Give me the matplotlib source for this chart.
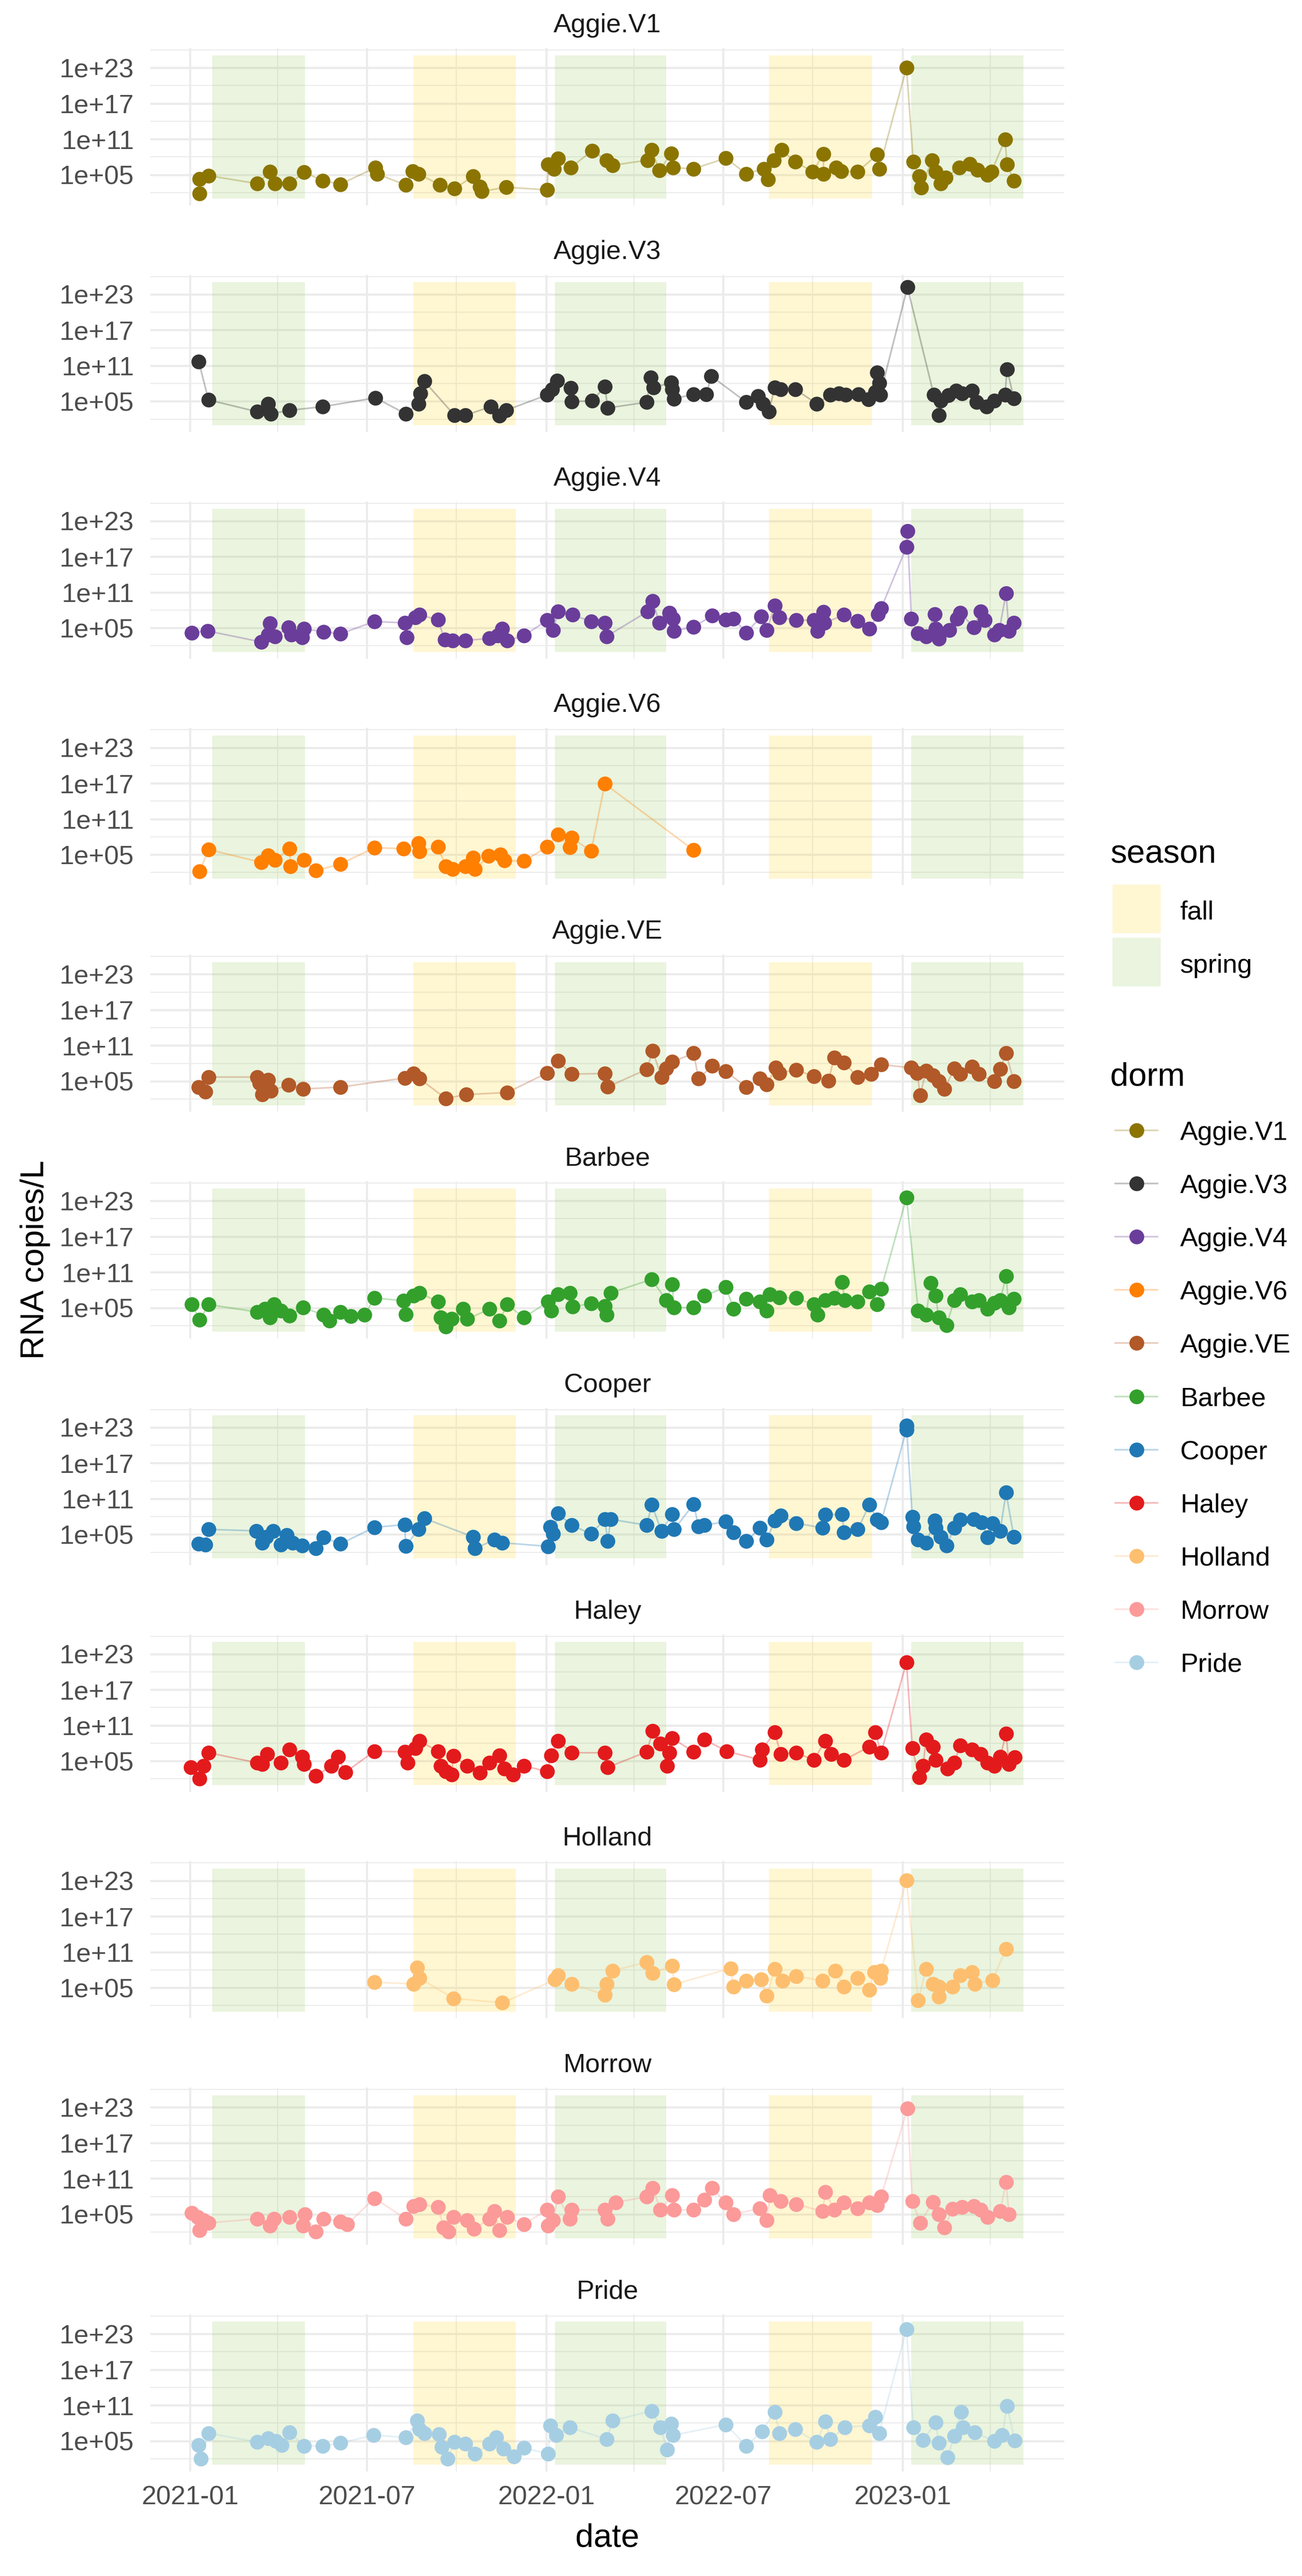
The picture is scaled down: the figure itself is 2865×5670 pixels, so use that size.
import numpy as np
import matplotlib
matplotlib.use("Agg")
import matplotlib.pyplot as plt
import matplotlib.dates as mdates
from matplotlib.patches import Rectangle
from matplotlib.lines import Line2D

plt.rcParams['font.family'] = ['Liberation Sans', 'DejaVu Sans']

# ---------------- data (day = days since 2021-01-01, value = log10 RNA copies/L)
BASE_DATE = '2021-01-01'

dorms = ['Aggie.V1', 'Aggie.V3', 'Aggie.V4', 'Aggie.V6', 'Aggie.VE', 'Barbee',
         'Cooper', 'Haley', 'Holland', 'Morrow', 'Pride']
dorm_colors = ['#8B7500', '#333333', '#6A3D9A', '#FF7F00', '#B15928', '#33A02C',
               '#1F78B4', '#E31A1C', '#FDBF6F', '#FB9A99', '#A6CEE3']

AGGIE_V1 = [(10,4.27),(10,1.8),(19,4.85),(69,3.5),(82,5.5),(87,3.5),(102,3.5),(117,5.4),(136,4.0),(154,3.4),(190,6.2),(192,5.1),(221,3.3),(228,5.6),(234,5.15),(256,3.3),(271,2.65),(290,4.75),(297,3.0),(299,2.2),(324,2.9),(366,2.45),(367,6.7),(373,6.0),(377,7.7),(390,6.2),(412,9.05),(427,7.45),(433,6.6),(469,7.45),(473,9.15),(481,5.7),(493,8.6),(495,6.2),(516,6.0),(549,7.8),(570,5.15),(588,6.0),(592,4.2),(598,7.45),(606,9.15),(620,7.2),(638,5.5),(649,8.5),(649,5.1),(662,6.2),(667,5.6),(684,5.5),(704,8.4),(706,6.0),(734,23.0),(741,7.2),(747,4.75),(749,2.8),(760,7.45),(764,5.5),(769,3.5),(774,4.5),(788,6.2),(799,6.8),(807,5.8),(817,5.0),(821,5.5),(835,10.9),(837,6.7),(844,4.0)]

AGGIE_V3 = [(9,11.7),(19,5.25),(69,3.25),(80,4.6),(83,2.9),(102,3.5),(136,4.1),(190,5.6),(221,2.9),(234,4.6),(236,6.3),(240,8.4),(271,2.65),(282,2.65),(308,4.1),(317,2.55),(324,3.5),(366,6.1),(371,7.05),(376,8.5),(390,7.25),(391,4.95),(412,5.1),(425,7.45),(428,3.9),(468,4.85),(472,9.0),(475,7.3),(493,8.2),(494,7.05),(496,5.45),(516,6.2),(529,6.2),(534,9.25),(570,4.85),(582,5.85),(587,4.6),(593,3.25),(599,7.3),(605,7.05),(620,7.05),(642,4.6),(656,6.1),(665,6.3),(672,6.1),(685,6.2),(695,5.35),(702,6.55),(704,9.85),(706,8.1),(707,6.1),(735,24.2),(762,6.1),(767,2.65),(769,5.1),(777,6.0),(785,6.8),(791,6.3),(801,6.8),(806,4.85),(816,4.1),(824,5.1),(835,6.1),(837,10.4),(844,5.5)]

AGGIE_V4 = [(2,4.2),(18,4.5),(73,2.65),(80,3.9),(82,5.75),(87,3.6),(101,5.1),(104,3.9),(115,3.4),(117,4.85),(137,4.35),(154,4.0),(189,6.1),(220,5.85),(222,3.4),(231,6.8),(235,7.2),(254,6.4),(261,3.0),(269,2.9),(282,2.9),(307,3.25),(315,3.7),(320,4.85),(325,2.9),(342,3.7),(366,6.3),(372,4.6),(377,7.8),(392,7.2),(411,6.1),(425,5.85),(427,3.6),(469,7.8),(474,9.5),(481,5.85),(491,7.55),(495,6.55),(496,4.5),(516,5.2),(535,7.05),(549,6.4),(557,6.55),(570,4.2),(585,6.9),(591,4.6),(599,8.75),(604,6.8),(621,6.3),(639,6.3),(643,4.5),(649,7.7),(650,5.85),(670,7.2),(684,6.2),(696,4.85),(705,7.3),(708,8.3),(734,18.6),(735,21.3),(739,6.55),(746,4.1),(754,3.6),(763,7.3),(764,4.85),(767,3.15),(778,4.6),(786,6.55),(789,7.55),(803,5.1),(810,7.8),(814,6.3),(824,3.9),(829,4.6),(836,10.85),(839,4.5),(844,5.85)]

AGGIE_V6 = [(10,2.2),(19,5.85),(73,3.7),(80,4.85),(87,4.1),(102,6.0),(103,3.05),(117,4.1),(129,2.3),(154,3.4),(189,6.15),(219,6.0),(234,6.95),(235,5.5),(254,6.3),(262,3.05),(269,2.55),(282,3.05),(290,4.5),(292,2.55),(306,4.75),(318,5.0),(322,4.0),(342,3.9),(366,6.3),(377,8.4),(389,6.2),(391,7.8),(411,5.6),(425,16.9),(516,5.75)]

AGGIE_VE = [(9,4.0),(16,3.25),(19,5.7),(69,5.7),(71,4.7),(74,2.75),(80,5.2),(83,3.4),(101,4.35),(116,3.7),(154,4.0),(220,5.55),(229,6.3),(235,5.45),(262,2.1),(283,2.75),(325,3.1),(366,6.4),(377,8.4),(391,6.2),(425,6.3),(428,4.05),(468,7.0),(474,10.1),(483,5.7),(488,7.15),(494,8.25),(516,9.7),(521,5.45),(535,7.55),(549,6.65),(570,4.0),(584,5.45),(591,4.45),(600,7.3),(604,6.4),(621,6.9),(639,5.85),(654,5.05),(660,9.0),(670,8.15),(684,5.7),(698,6.2),(708,7.8),(739,7.25),(745,6.4),(748,2.6),(754,6.75),(761,5.95),(767,4.95),(773,3.7),(783,7.15),(789,6.2),(801,7.4),(808,6.2),(824,4.95),(830,7.05),(836,9.7),(844,4.95)]

BARBEE = [(2,5.55),(10,2.95),(19,5.55),(69,4.3),(77,4.8),(82,3.35),(86,5.55),(93,4.55),(102,3.7),(116,5.05),(137,3.8),(143,2.85),(154,4.3),(165,3.6),(179,3.8),(189,6.65),(219,6.2),(221,3.9),(229,7.0),(235,7.5),(254,6.05),(257,3.35),(262,1.85),(268,3.1),(280,4.8),(284,3.1),(307,4.8),(317,2.85),(325,5.55),(342,3.35),(367,6.05),(370,4.55),(377,7.25),(389,7.5),(392,5.2),(411,5.7),(425,5.3),(427,3.8),(431,7.5),(473,9.8),(488,6.25),(494,8.95),(496,5.05),(516,5.05),(527,7.0),(549,8.5),(557,4.8),(570,6.5),(584,6.05),(591,4.55),(594,7.25),(604,6.75),(621,6.65),(639,5.55),(643,3.8),(651,6.25),(660,6.65),(668,9.3),(671,6.25),(684,6.05),(696,7.75),(704,5.55),(708,8.15),(734,23.55),(746,4.55),(754,3.8),(759,9.2),(764,7.0),(767,3.35),(775,2.1),(783,6.25),(789,7.25),(801,6.05),(808,6.25),(817,4.8),(824,5.8),(830,6.25),(836,10.3),(839,5.05),(844,6.5)]

COOPER = [(9,3.4),(16,3.25),(19,5.85),(68,5.6),(74,3.6),(78,4.6),(85,5.6),(93,3.25),(99,4.85),(105,3.6),(115,3.15),(129,2.65),(137,4.5),(154,3.4),(189,6.2),(220,6.65),(221,3.05),(234,5.85),(240,7.7),(290,4.6),(292,2.65),(312,4.1),(320,3.6),(367,3.0),(369,6.25),(372,5.1),(377,8.55),(391,6.55),(411,5.1),(425,7.55),(428,3.85),(431,7.55),(468,6.55),(473,10.0),(483,5.6),(494,8.4),(496,5.85),(516,10.1),(521,6.3),(527,6.55),(549,7.15),(557,5.35),(570,3.85),(584,6.1),(591,4.1),(599,7.3),(605,8.15),(621,6.9),(648,6.1),(651,8.3),(668,8.4),(670,5.35),(684,5.85),(696,10.0),(704,7.45),(708,7.05),(734,22.65),(734,23.3),(740,7.9),(741,6.3),(746,4.1),(754,3.6),(763,7.3),(764,6.1),(769,4.6),(775,3.15),(783,6.1),(789,7.45),(803,7.55),(811,7.05),(817,4.5),(822,6.9),(830,5.6),(836,12.05),(844,4.6)]

HALEY = [(1,3.95),(10,2.0),(14,4.2),(19,6.4),(69,4.7),(74,4.45),(79,6.2),(93,4.7),(102,6.9),(115,5.7),(117,4.45),(129,2.5),(145,4.2),(152,5.7),(159,3.1),(189,6.65),(220,6.55),(223,4.7),(231,7.15),(235,8.4),(254,6.65),(257,4.2),(262,3.25),(268,2.75),(270,5.85),(284,4.2),(297,3.0),(307,4.7),(317,5.95),(322,3.7),(331,2.75),(342,4.2),(366,3.25),(370,5.95),(377,8.4),(391,6.4),(425,6.4),(428,3.95),(468,6.55),(474,10.1),(482,7.9),(489,4.2),(491,6.4),(494,8.85),(516,6.55),(527,8.6),(550,6.65),(584,5.2),(586,6.9),(599,9.85),(605,6.2),(621,6.4),(639,5.2),(651,8.4),(657,6.2),(670,5.2),(696,7.4),(702,9.85),(708,6.4),(734,21.6),(740,7.15),(747,2.25),(751,4.2),(754,8.6),(761,7.4),(764,5.2),(776,3.7),(783,4.7),(789,7.65),(801,6.9),(810,6.2),(817,4.7),(824,4.2),(830,5.7),(836,9.6),(839,4.45),(845,5.6)]

HOLLAND = [(189,5.9),(229,5.65),(233,8.35),(235,6.6),(270,3.2),(320,2.45),(374,6.35),(377,7.1),(391,5.65),(425,3.8),(427,5.65),(433,7.85),(468,9.3),(474,7.45),(494,8.7),(496,5.55),(554,8.25),(557,5.15),(570,6.15),(585,6.35),(591,3.6),(599,8.1),(607,6.15),(621,6.95),(648,6.15),(661,7.85),(670,5.15),(684,6.6),(696,4.65),(701,7.6),(707,6.6),(708,7.85),(734,23.05),(746,2.85),(754,8.1),(761,5.65),(767,3.45),(767,5.15),(781,5.15),(789,7.1),(801,7.6),(804,5.65),(822,6.25),(836,11.5)]

MORROW = [(2,5.25),(8,4.5),(10,2.3),(14,4.0),(19,3.55),(69,4.25),(82,3.05),(86,4.25),(102,4.5),(116,3.05),(118,5.0),(129,2.05),(137,4.25),(154,3.8),(161,3.3),(189,7.7),(221,4.25),(229,6.4),(235,6.7),(254,6.2),(260,2.8),(265,2.05),(270,4.5),(284,4.0),(291,2.55),(307,4.25),(312,5.5),(317,2.3),(325,4.5),(342,3.3),(366,5.75),(367,3.05),(372,4.0),(377,7.95),(389,4.25),(391,5.75),(425,5.75),(428,4.25),(436,7.0),(468,7.95),(474,9.4),(482,5.75),(494,8.2),(496,5.75),(516,5.75),(527,7.45),(535,9.4),(549,7.0),(557,5.0),(584,6.0),(591,4.0),(594,8.2),(605,7.2),(621,6.7),(648,5.5),(651,8.7),(660,5.75),(670,7.0),(684,6.0),(696,7.0),(704,6.5),(708,7.95),(735,22.8),(740,7.2),(748,3.55),(761,7.05),(767,5.0),(773,2.8),(781,5.9),(791,6.2),(803,6.35),(810,5.75),(817,4.5),(830,5.5),(836,10.4),(839,5.0)]

PRIDE = [(9,4.3),(11,2.0),(19,6.3),(69,4.8),(80,5.45),(88,4.95),(94,4.3),(102,6.45),(117,4.15),(136,4.15),(154,4.65),(188,5.95),(221,5.6),(233,8.4),(235,6.95),(240,6.3),(255,6.1),(258,4.0),(264,2.0),(271,4.8),(282,4.5),(292,2.85),(307,4.5),(314,5.6),(321,3.65),(332,2.35),(342,3.8),(367,2.85),(369,7.6),(375,5.95),(389,7.25),(427,5.3),(433,8.4),(473,10.05),(482,7.25),(489,3.5),(493,7.9),(495,5.95),(549,7.75),(570,4.15),(586,6.6),(599,9.9),(604,6.3),(620,6.95),(642,4.8),(651,8.25),(656,5.3),(671,7.25),(696,7.6),(702,9.05),(706,6.3),(734,23.8),(741,7.25),(751,5.15),(764,8.1),(767,4.65),(776,2.2),(783,5.8),(790,9.9),(792,7.25),(804,6.45),(824,4.95),(832,5.95),(837,10.85),(845,5.05)]

dorm_data = [AGGIE_V1, AGGIE_V3, AGGIE_V4, AGGIE_V6, AGGIE_VE, BARBEE,
             COOPER, HALEY, HOLLAND, MORROW, PRIDE]

# seasons (quarters)
season_start = ['2021-01-24', '2021-08-18', '2022-01-10', '2022-08-17', '2023-01-10']
season_end = ['2021-04-29', '2021-12-01', '2022-05-04', '2022-12-01', '2023-05-05']
season_kind = ['spring', 'fall', 'spring', 'fall', 'spring']
season_names = ['fall', 'spring']
season_colors = {'fall': '#FFD21E', 'spring': '#96C85A'}
season_alpha = 0.2
season_ymin_log, season_ymax_log = 0.97, 25.05

x_major = ['2021-01-01', '2021-07-01', '2022-01-01', '2022-07-01', '2023-01-01']
x_major_labels = ['2021-01', '2021-07', '2022-01', '2022-07', '2023-01']
x_minor = ['2021-04-01', '2021-10-01', '2022-04-01', '2022-10-01', '2023-04-01']
y_major = [1e5, 1e11, 1e17, 1e23]
y_major_labels = ['1e+05', '1e+11', '1e+17', '1e+23']
y_minor = [1e2, 1e8, 1e14, 1e20, 1e26]

# ---------------- layout (pixels)
W, H, DPI = 2865, 5670, 100
PANEL_LEFT, PANEL_W = 331, 2011
PANEL_TOP0, PANEL_H, PANEL_STEP = 106, 346, 498.8
GRID = '#EBEBEB'
MS = 23.5
LINE_ALPHA = 0.3
LINE_W = 2.6

def dnum(s):
    return mdates.date2num(np.datetime64(s))

x0 = dnum(BASE_DATE)
XLIM = (x0 - 40.5, x0 + 895.7)
YLIM = (10 ** -0.15, 10 ** 26.3)

fig = plt.figure(figsize=(W / DPI, H / DPI), dpi=DPI)
fig.patch.set_facecolor('white')

n = len(dorms)
for i, (name, col, data) in enumerate(zip(dorms, dorm_colors, dorm_data)):
    top = PANEL_TOP0 + i * PANEL_STEP
    ax = fig.add_axes([PANEL_LEFT / W, 1 - (top + PANEL_H) / H, PANEL_W / W, PANEL_H / H])
    ax.set_yscale('log')
    ax.set_xlim(*XLIM)
    ax.set_ylim(*YLIM)
    ax.set_axisbelow(True)

    for s, e, k in zip(season_start, season_end, season_kind):
        xs, xe = dnum(s), dnum(e)
        ax.add_patch(Rectangle((xs, 10 ** season_ymin_log), xe - xs,
                               10 ** season_ymax_log - 10 ** season_ymin_log,
                               facecolor=season_colors[k], alpha=season_alpha,
                               edgecolor='none', zorder=1))

    arr = np.array(data, dtype=float)
    order = np.argsort(arr[:, 0], kind='stable')
    xv = x0 + arr[order, 0]
    yv = np.power(10.0, arr[order, 1])
    ax.plot(xv, yv, color=col, alpha=LINE_ALPHA, lw=LINE_W, zorder=3, solid_capstyle='butt')
    ax.plot(xv, yv, linestyle='none', marker='o', ms=MS, mew=0, color=col, zorder=4)

    ax.set_xticks([dnum(d) for d in x_major])
    ax.set_xticklabels(x_major_labels)
    ax.set_xticks([dnum(d) for d in x_minor], minor=True)
    ax.set_yticks(y_major)
    ax.set_yticklabels(y_major_labels)
    ax.set_yticks(y_minor, minor=True)
    ax.yaxis.set_minor_formatter(matplotlib.ticker.NullFormatter())

    ax.grid(True, which='major', color=GRID, linewidth=3.3)
    ax.grid(True, which='minor', color=GRID, linewidth=1.65)
    ax.tick_params(which='both', length=0)
    ax.tick_params(axis='y', labelsize=42, labelcolor='#4D4D4D', pad=26)
    ax.tick_params(axis='x', labelsize=42, labelcolor='#4D4D4D', pad=22,
                   labelbottom=(i == n - 1))
    for sp in ax.spines.values():
        sp.set_visible(False)

    ax.text(0.5, 1 + 35 / PANEL_H, name, transform=ax.transAxes, ha='center',
            va='baseline', fontsize=42, color='#1A1A1A')

# ---------------- overlay for titles and legends (pixel coordinates)
ov = fig.add_axes([0, 0, 1, 1], zorder=10)
ov.set_xlim(0, W)
ov.set_ylim(H, 0)
ov.axis('off')

ov.text(PANEL_LEFT + PANEL_W / 2, 5606, 'date', ha='center', va='baseline',
        fontsize=52, color='black')
ov.text(96, PANEL_TOP0 + ((n - 1) * PANEL_STEP + PANEL_H) / 2, 'RNA copies/L',
        rotation=90, rotation_mode='anchor', ha='center', va='baseline',
        fontsize=52, color='black')

# season legend
LEG_X = 2443
ov.text(LEG_X, 1899, 'season', ha='left', va='baseline', fontsize=52, color='black')
key_x0, key_w, key_h = 2448, 106, 107
for j, sname in enumerate(season_names):
    cy = 2000 + j * 117
    ov.add_patch(Rectangle((key_x0, cy - key_h / 2), key_w, key_h,
                           facecolor=season_colors[sname], alpha=season_alpha,
                           edgecolor='none'))
    ov.text(2596, cy + 24, sname, ha='left', va='baseline', fontsize=42, color='black')

# dorm legend
ov.text(LEG_X, 2390, 'dorm', ha='left', va='baseline', fontsize=52, color='black')
for j, (name, col) in enumerate(zip(dorms, dorm_colors)):
    cy = 2488 + j * 117.1
    ov.add_line(Line2D([2454, 2547], [cy, cy], color=col, alpha=LINE_ALPHA, lw=LINE_W))
    ov.add_line(Line2D([2501], [cy], linestyle='none', marker='o', ms=MS, mew=0,
                       color=col))
    ov.text(2597, cy + 21, name, ha='left', va='baseline', fontsize=42, color='black')

fig.savefig('out.png', dpi=DPI, facecolor='white')
